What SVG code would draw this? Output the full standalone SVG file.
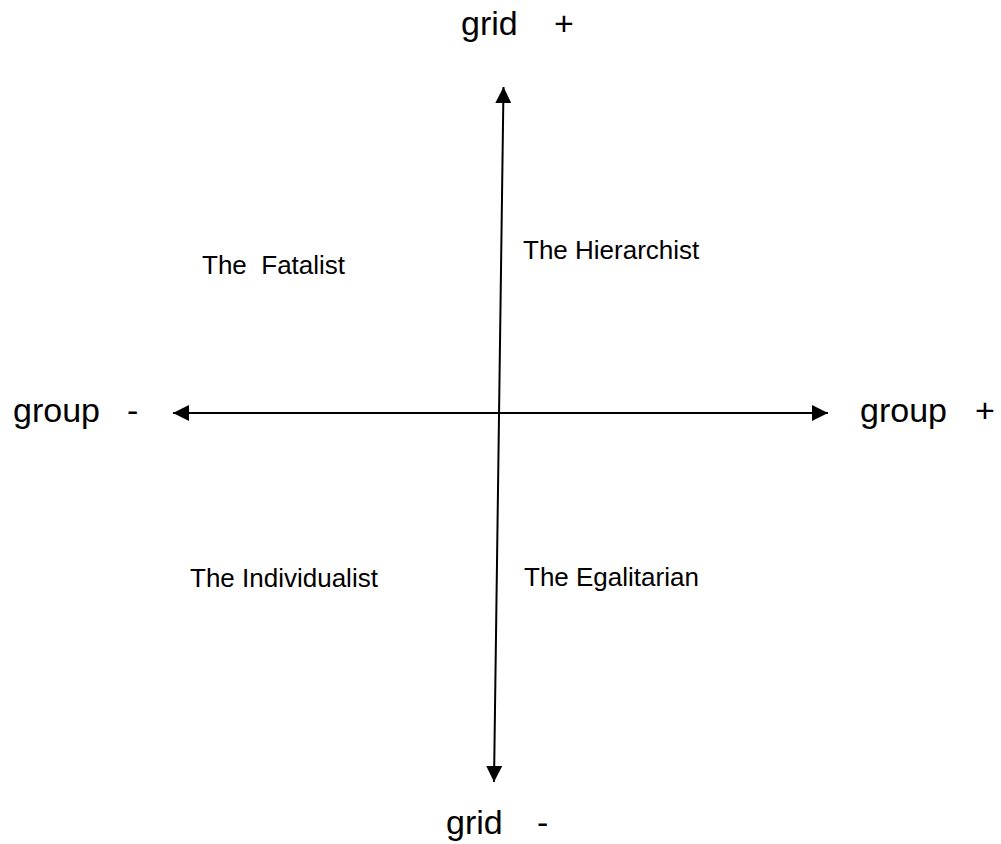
<svg xmlns="http://www.w3.org/2000/svg" width="1001" height="844" viewBox="0 0 1001 844">
<defs>
<style>
.axis{font-family:"Liberation Sans",Arial,sans-serif;font-size:34px;fill:#000}
.lbl{font-family:"Liberation Sans",Arial,sans-serif;font-size:26px;fill:#000}
.ln{stroke:#000;stroke-width:2;fill:none}
</style>
<marker id="ah" markerUnits="userSpaceOnUse" markerWidth="16" markerHeight="16" refX="16" refY="8" orient="auto-start-reverse" viewBox="0 0 16 16">
<path d="M0,0 L16,8 L0,16 z" fill="#000"/>
</marker>
</defs>
<rect width="1001" height="844" fill="#fff"/>
<g id="connectors">
<line class="ln" x1="494" y1="782" x2="503.5" y2="87" marker-start="url(#ah)" marker-end="url(#ah)"/>
<line class="ln" x1="173" y1="413" x2="828" y2="413" marker-start="url(#ah)" marker-end="url(#ah)"/>
</g>
<g id="grid-plus"><text class="axis" y="35"><tspan x="461">grid</tspan><tspan x="554">+</tspan></text></g>
<g id="grid-minus"><text class="axis" y="834"><tspan x="446">grid</tspan><tspan x="537">-</tspan></text></g>
<g id="group-minus"><text class="axis" y="422"><tspan x="13">group</tspan><tspan x="127">-</tspan></text></g>
<g id="group-plus"><text class="axis" y="422"><tspan x="860">group</tspan><tspan x="975">+</tspan></text></g>
<g id="fatalist"><text class="lbl" x="202" y="274" style="white-space:pre">The  Fatalist</text></g>
<g id="hierarchist"><text class="lbl" x="523" y="259">The Hierarchist</text></g>
<g id="individualist"><text class="lbl" x="190" y="587">The Individualist</text></g>
<g id="egalitarian"><text class="lbl" x="524" y="586">The Egalitarian</text></g>
</svg>
